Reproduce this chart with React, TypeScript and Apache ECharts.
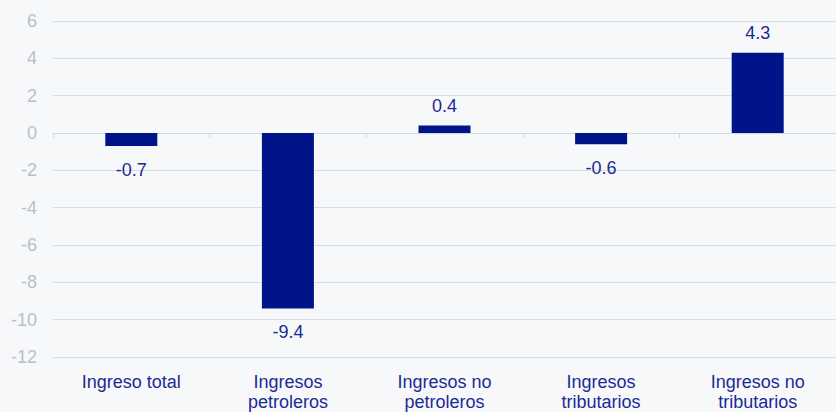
import React, { useEffect, useRef } from "react";
import * as echarts from "echarts";

const categories = [
  "Ingreso total",
  "Ingresos\npetroleros",
  "Ingresos no\npetroleros",
  "Ingresos\ntributarios",
  "Ingresos no\ntributarios",
];
const values = [-0.7, -9.4, 0.4, -0.6, 4.3];
const yMin = -12;
const yMax = 6;
const yInterval = 2;

export default function App() {
  const ref = useRef<HTMLDivElement>(null);
  useEffect(() => {
    if (!ref.current) return;
    const chart = echarts.init(ref.current, undefined, { renderer: "svg" });
    const font = "'Liberation Sans', Arial, sans-serif";
    chart.setOption({
      animation: false,
      backgroundColor: "#f7f8f9",
      grid: { left: 53, right: -11, top: 21, bottom: 51, containLabel: false },
      xAxis: [
        {
          type: "category",
          data: categories,
          position: "bottom",
          axisLine: { show: false, onZero: false },
          axisTick: { show: false },
          axisLabel: {
            color: "#1b2a96",
            fontSize: 18,
            fontFamily: font,
            lineHeight: 20,
            margin: 15,
            interval: 0,
          },
        },
        {
          type: "category",
          data: categories,
          position: "bottom",
          axisLine: { show: true, onZero: true, lineStyle: { color: "#d3d7de", width: 1 } },
          axisTick: { show: true, length: 5, lineStyle: { color: "#d3d7de" } },
          axisLabel: { show: false },
        },
      ],
      yAxis: {
        type: "value",
        min: yMin,
        max: yMax,
        interval: yInterval,
        axisLine: { show: false },
        axisTick: { show: false },
        axisLabel: { color: "#b7bfca", fontSize: 18, fontFamily: font, margin: 16 },
        splitLine: { lineStyle: { color: "#d8dce3", width: 1 } },
      },
      series: [
        {
          type: "bar",
          xAxisIndex: 0,
          barWidth: 52,
          data: values.map((v) => ({
            value: v,
            label: { position: v < 0 ? "bottom" : "top", distance: v < 0 ? 15 : 11 },
          })),
          itemStyle: { color: "#001489" },
          label: {
            show: true,
            color: "#1b2a96",
            fontSize: 18,
            fontFamily: font,
            formatter: (p: any) => p.value.toFixed(1),
          },
        },
      ],
    });
    return () => chart.dispose();
  }, []);
  return (
    <div
      ref={ref}
      style={{ position: "fixed", left: 0, top: 0, width: 836, height: 412 }}
    />
  );
}
